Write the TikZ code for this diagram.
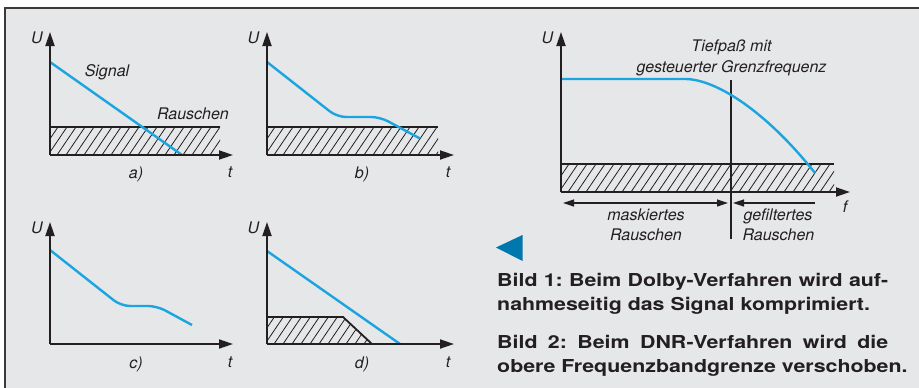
\documentclass[tikz,border=0pt]{standalone}
\usepackage{fontspec}
\setmainfont{TeX Gyre Heros}
\newfontfamily\capfont[FakeStretch=1.2]{TeX Gyre Heros}
\usetikzlibrary{arrows.meta}
\definecolor{bg}{HTML}{E6E7E8}
\definecolor{ink}{HTML}{231F20}
\definecolor{sig}{HTML}{1BA5E0}
\definecolor{tri}{HTML}{0078AD}
\definecolor{frame}{HTML}{3A3A3A}
\frenchspacing
\begin{document}
\begin{tikzpicture}[x=1pt,y=-1pt,
  axis/.style={draw=ink, line width=1.8pt, -{Triangle[length=14pt,width=9pt]}},
  sigline/.style={draw=sig, line width=2.4pt},
  hatchline/.style={draw=ink, line width=0.8pt},
  noisetop/.style={draw=ink, line width=1.8pt},
  lab/.style={font=\itshape\fontsize{16}{18}\selectfont, text=ink, inner sep=0pt, anchor=base},
  captxt/.style={font=\capfont\bfseries\fontsize{17.8}{20}\selectfont, text=ink, inner sep=0pt, anchor=base west},
  meas/.style={draw=ink, line width=1.2pt},
  mtip/.style={-{Triangle[length=11pt,width=7pt]}}
]
\useasboundingbox (0,0) rectangle (919,388);
% background and frame
\fill[bg] (5,8) rectangle (919,388);
\draw[frame, line width=1.6pt] (5,388) -- (5,8) -- (919,8);

% ---------- graph a ----------
\coordinate (oa) at (50,155);
\coordinate (ya) at (50,32);
\coordinate (xa) at (233,155);
\begin{scope}
  \clip (50,155) rectangle (220,127);
  \foreach \x in {30,39,...,230} \draw[hatchline] (\x,155) -- ++(19,-28);
\end{scope}
\draw[noisetop] (50,127) -- (220,127);
\coordinate (sa1) at (50,62);
\coordinate (sa2) at (182,155);
\draw[sigline] (sa1) -- (sa2);
\draw[axis] (oa) -- (ya);
\draw[axis] (oa) -- (xa);
\node[lab] (Ua) at (37,43) {U};
\node[lab] (ta) at (230,177) {t};
\node[lab] (la) at (136,178) {a)};
\node[lab] (sigtxt) at (107,76) {Signal};
\node[lab] (rtxt) at (193,119) {Rauschen};

% ---------- graph b ----------
\coordinate (ob) at (267,155);
\coordinate (yb) at (267,32);
\coordinate (xb) at (454,155);
\begin{scope}
  \clip (267,155) rectangle (438,127);
  \foreach \x in {247,256,...,450} \draw[hatchline] (\x,155) -- ++(19,-28);
\end{scope}
\draw[noisetop] (267,127) -- (438,127);
\draw[sigline, rounded corners=9pt] (267,62) -- (337,117) -- (380,117) -- (420,138.5);
\draw[axis] (ob) -- (yb);
\draw[axis] (ob) -- (xb);
\node[lab] (Ub) at (253.5,43) {U};
\node[lab] (tb) at (448,177) {t};
\node[lab] (lb) at (362,178) {b)};

% ---------- graph c ----------
\coordinate (oc) at (50,344);
\coordinate (yc) at (50,222);
\coordinate (xc) at (233,344);
\draw[sigline, rounded corners=9pt] (50,250) -- (121,306) -- (157,306) -- (192,325);
\draw[axis] (oc) -- (yc);
\draw[axis] (oc) -- (xc);
\node[lab] (Uc) at (37,233) {U};
\node[lab] (tc) at (230,367) {t};
\node[lab] (lc) at (136,368) {c)};

% ---------- graph d ----------
\coordinate (od) at (267,344);
\coordinate (yd) at (267,222);
\coordinate (xd) at (454,344);
\begin{scope}
  \clip (267,344) -- (267,317) -- (343,317) -- (372,344) -- cycle;
  \foreach \x in {247,256,...,380} \draw[hatchline] (\x,344) -- ++(19,-28);
\end{scope}
\draw[noisetop] (267,317) -- (343,317) -- (372,344);
\draw[sigline] (267,251) -- (400,344);
\draw[axis] (od) -- (yd);
\draw[axis] (od) -- (xd);
\node[lab] (Ud) at (253.5,233) {U};
\node[lab] (td) at (448,367) {t};
\node[lab] (ld) at (362,368) {d)};

% ---------- right graph ----------
\coordinate (oe) at (561,192);
\coordinate (ye) at (561,32);
\coordinate (xe) at (850,192);
\begin{scope}
  \clip (561,192) rectangle (834,164);
  \foreach \x in {541,550,...,845} \draw[hatchline] (\x,192) -- ++(19,-28);
\end{scope}
\draw[noisetop] (561,164) -- (834,164);
\coordinate (vt) at (731,80);
\coordinate (vb) at (731,239);
\draw[draw=ink, line width=1.5pt] (vt) -- (vb);
\draw[sigline] (561,79) -- (685,79) .. controls (715,79) and (765,110) .. (815,173);
\draw[axis] (oe) -- (ye);
\draw[axis] (oe) -- (xe);
\coordinate (m1) at (563,203);
\coordinate (m2) at (728,203);
\coordinate (m3) at (733,203);
\coordinate (m4) at (815,203);
\draw[meas, {Triangle[length=11pt,width=7pt]}-{Triangle[length=11pt,width=7pt]}] (m1) -- (m2);
\draw[meas, mtip] (m4) -- (m3);
\node[lab] (Ue) at (547.5,43) {U};
\node[lab] (fe) at (845,212.5) {f};
\node[lab] (tp1) at (731.5,51.5) {Tiefpaß mit};
\node[lab] (tp2) at (731.5,72.5) {gesteuerter Grenzfrequenz};
\node[lab] (mk1) at (646,220.5) {maskiertes};
\node[lab] (mk2) at (646,240.5) {Rauschen};
\node[lab] (gf1) at (778,220.5) {gefiltertes};
\node[lab] (gf2) at (778.5,240.5) {Rauschen};

% ---------- marker triangle ----------
\fill[tri] (496,247.5) -- (522.5,235) -- (522.5,261) -- cycle;

% ---------- captions ----------
\node[captxt] (c1) at (497,286) {\makebox[391pt][s]{Bild 1: Beim Dolby-Verfahren wird auf-}};
\node[captxt] (c2) at (497,310.5) {nahmeseitig das Signal komprimiert.};
\node[captxt] (c3) at (497,348) {\makebox[391pt][s]{Bild 2: Beim DNR-Verfahren wird die}};
\node[captxt] (c4) at (497,372) {obere Frequenzbandgrenze verschoben.};
\end{tikzpicture}
\end{document}
